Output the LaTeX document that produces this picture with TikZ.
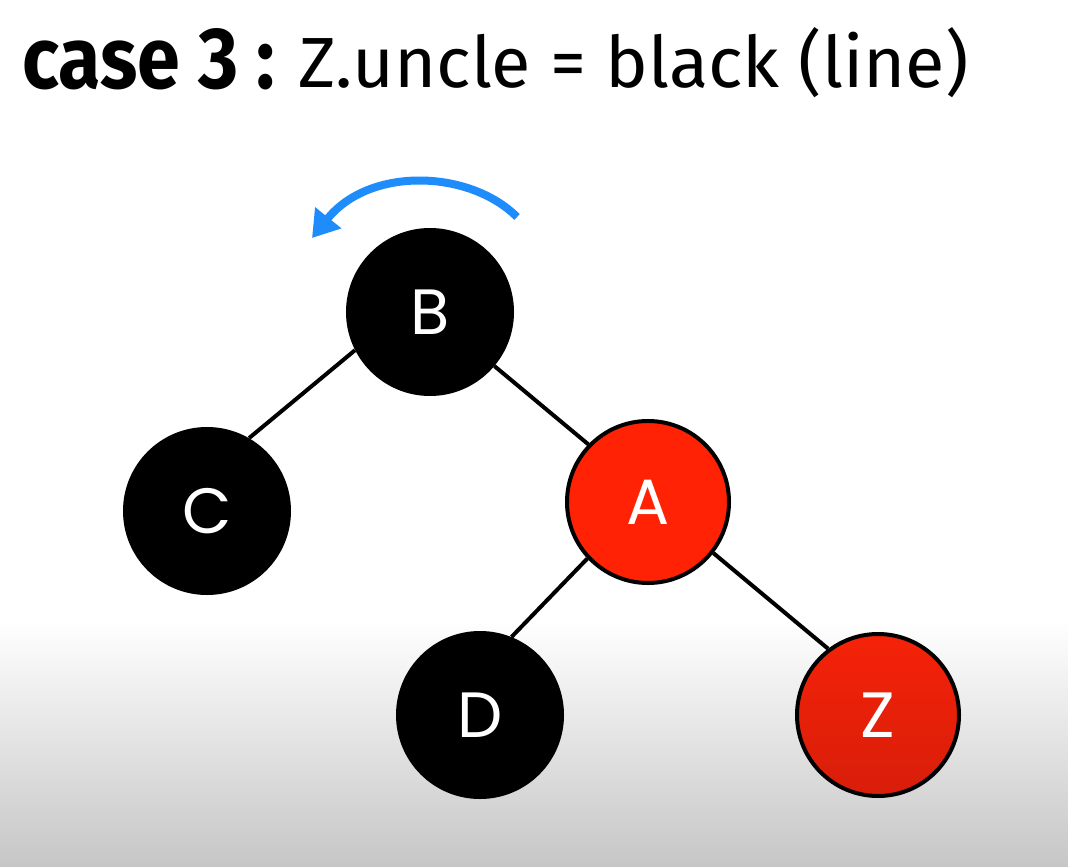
\documentclass[tikz,border=0pt]{standalone}
\usepackage{fontspec}
\setmainfont{Fira Sans}
\newfontfamily\letterfont{Poppins}
\usetikzlibrary{arrows.meta}
\definecolor{nodered}{HTML}{FF2205}
\definecolor{zredtop}{HTML}{F52208}
\definecolor{zredbot}{HTML}{D81E0A}
\definecolor{turnblue}{HTML}{1E8CFA}
\definecolor{floorgray}{HTML}{C6C6C6}
\tikzset{
  blacknode/.style={circle, fill=black, minimum size=168pt, inner sep=0pt,
    text=white, font=\letterfont\fontsize{64}{64}\selectfont},
  rednode/.style={circle, fill=nodered, draw=black, line width=4pt,
    minimum size=162pt, inner sep=0pt,
    text=white, font=\letterfont\fontsize{64}{64}\selectfont},
  treeedge/.style={line width=4pt, black},
  turnarrow/.style={line width=8pt, turnblue,
    -{Triangle[length=26pt,width=32pt]}},
}
\begin{document}
\begin{tikzpicture}[x=1pt,y=-1pt]
  \useasboundingbox (0,0) rectangle (1068,867);
  % page background: white fading to gray at the bottom
  \fill[white] (0,0) rectangle (1068,620);
  \shade[top color=white, bottom color=floorgray] (0,620) rectangle (1068,867);

  % heading
  \node[anchor=base west, inner sep=0pt] (headbold) at (22,88)
    {\resizebox{253pt}{60pt}{\bfseries case 3 :}};
  \node[anchor=base west, inner sep=0pt] (headrest) at (298,88)
    {\resizebox{670pt}{60pt}{Z.uncle = black (line)}};

  % tree
  \node[blacknode] (B) at (430,312) {B};
  \node[blacknode] (C) at (207,511) {C};
  \node[rednode]   (A) at (648,502) {A};
  \node[blacknode] (D) at (480,715) {D};
  \node[rednode, top color=zredtop, bottom color=zredbot] (Z) at (878,715) {Z};

  \draw[treeedge] (B.207.5) -- (C.60.7);
  \draw[treeedge] (B.320.6) -- (A.136.5);
  \draw[treeedge] (A.223.6) -- (D.68);
  \draw[treeedge] (A.322.7) -- (Z.127.3);

  % rotation arrow
  \coordinate (turnstart) at (517,217);
  \coordinate (turnend) at (312,238);
  \draw[turnarrow] (turnstart) .. controls (470,170) and (370,166) .. (turnend);
\end{tikzpicture}
\end{document}
